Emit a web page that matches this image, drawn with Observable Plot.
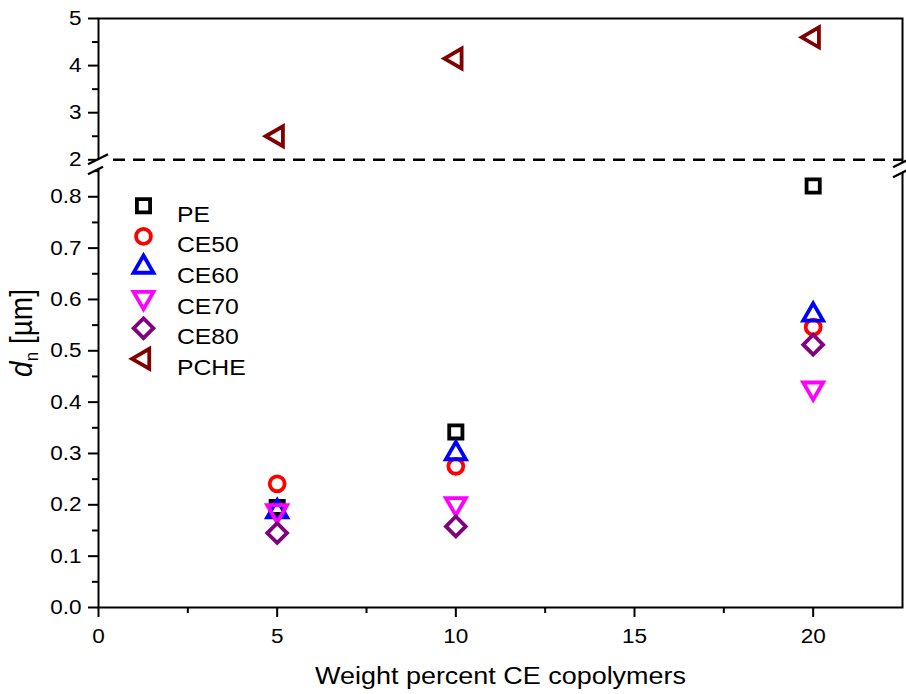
<!DOCTYPE html>
<html><head><meta charset="utf-8">
<script src="https://cdn.jsdelivr.net/npm/d3@7"></script>
<script src="https://cdn.jsdelivr.net/npm/@observablehq/plot@0.6"></script>
<style>
body{margin:0;background:#fff}
#chart{position:relative;width:906px;height:694px}
</style>
</head><body><div id="chart"></div>
<script>
// ---- data ----
const weightPercent = [5, 10, 20];
const peValues   = [0.195, 0.342, 0.821];
const ce50Values = [0.241, 0.275, 0.546];
const ce60Values = [0.187, 0.300, 0.570];
const ce70Values = [0.188, 0.202, 0.427];
const ce80Values = [0.145, 0.158, 0.512];
const pcheValues = [2.50, 4.15, 4.60];

const seriesNames   = ["PE", "CE50", "CE60", "CE70", "CE80", "PCHE"];
const seriesValues  = [peValues, ce50Values, ce60Values, ce70Values, ce80Values, pcheValues];
const seriesColors  = ["#000000", "#ff0000", "#0000ff", "#ff00ff", "#800080", "#800000"];
const seriesSymbols = ["square", "circle", "triangle", "triangle", "diamond2", "triangle"];
const seriesRotate  = [0, 0, 0, 180, 0, -90];
const seriesRadius  = [7.45, 7.45, 7.4, 7.4, 8.9, 7.4];

const xTicks      = [0, 5, 10, 15, 20];
const xMinorTicks = [2.5, 7.5, 12.5, 17.5];
const yTicks      = [0, 0.1, 0.2, 0.3, 0.4, 0.5, 0.6, 0.7, 0.8, 2, 3, 4, 5];
const yMinorTicks = [0.05, 0.15, 0.25, 0.35, 0.45, 0.55, 0.65, 0.75, 0.85, 2.5, 3.5, 4.5];
const xDomain     = [0, 22.5];
const yDomain     = [0, 0.872, 2, 5];   // broken axis: lower part 0–0.872, upper part 2–5
const breakValue  = 2;

const xTitle = "Weight percent CE copolymers";

// ---- layout ----
const W = 906, H = 694;
const mTop = 18, mBottom = 87, mLeft = 98, mRight = 4;
const breakPix = 159.3;
const font = "'Liberation Sans', Arial, sans-serif";
const stretch = 1.1;

const rows = [];
seriesValues.forEach((vals, i) => weightPercent.forEach((x, j) => rows.push({series: i, x, y: vals[j]})));

const marks = [
  Plot.ruleY([breakValue], {stroke: "black", strokeWidth: 2.5, strokeDasharray: "12,8", strokeDashoffset: 5})
];
seriesNames.forEach((name, i) => {
  marks.push(Plot.dot(rows.filter(d => d.series === i), {
    x: "x", y: "y", symbol: seriesSymbols[i], r: seriesRadius[i], rotate: seriesRotate[i],
    stroke: seriesColors[i], strokeWidth: 3.8, fill: "none"
  }));
});
// legend inside plot
seriesNames.forEach((name, i) => {
  const dy = 187.3 + i * 30.6;
  marks.push(Plot.dot([name], {
    frameAnchor: "top-left", dx: 45, dy, symbol: seriesSymbols[i], r: seriesRadius[i],
    rotate: seriesRotate[i], stroke: seriesColors[i], strokeWidth: 3.8, fill: "none"
  }));
  marks.push(Plot.text([name], {
    frameAnchor: "top-left", dx: 78.5, dy, text: d => d, textAnchor: "start",
    fontSize: 22.5, fill: "black"
  }));
});
marks.push(
  Plot.frame({stroke: "black", strokeWidth: 2}),
  Plot.axisX(xTicks, {tickSize: 10, tickPadding: 11, fontSize: 20.5, strokeWidth: 2, label: null}),
  Plot.axisX(xMinorTicks, {tickSize: 6, tickFormat: () => "", strokeWidth: 2, label: null}),
  Plot.axisY(yTicks, {tickSize: 10, tickPadding: 7, fontSize: 20.5, strokeWidth: 2, label: null,
    tickFormat: d => d < 1 ? d.toFixed(1) : String(d)}),
  Plot.axisY(yMinorTicks, {tickSize: 6, tickFormat: () => "", strokeWidth: 2, label: null}),
  Plot.text([xTitle], {frameAnchor: "bottom", dy: 76, lineAnchor: "bottom", text: d => d, fontSize: 24.5, fill: "black"})
);

const chart = Plot.plot({
  width: W, height: H,
  marginTop: mTop, marginBottom: mBottom, marginLeft: mLeft, marginRight: mRight,
  style: {fontFamily: font, fontSize: "20.5px", background: "white", color: "black"},
  x: {domain: xDomain},
  y: {type: "linear", domain: yDomain, range: [H - mBottom, breakPix, breakPix, mTop]},
  marks
});

document.getElementById("chart").appendChild(chart);

const svg = d3.select(chart);

// widen text glyphs slightly (the reference text is horizontally stretched)
svg.selectAll("text").each(function() {
  const t = d3.select(this);
  const tr = t.attr("transform");
  if (tr) t.attr("transform", tr + ` scale(${stretch},1)`);
  else {
    const x = +t.attr("x") || 0, y = +t.attr("y") || 0;
    t.attr("transform", `translate(${x},${y}) scale(${stretch},1) translate(${-x},${-y})`);
  }
});

// ---- axis break marks and y label ----
const sx = chart.scale("x"), sy = chart.scale("y");
function breakMark(cx, cy, lowerEnd) {
  const g = svg.append("g");
  g.append("path")
    .attr("d", `M${cx - 10},${cy + 5}L${cx + 10},${cy - 5}L${cx + 10},${cy + 5}L${cx - 10},${cy + 15}Z`)
    .attr("fill", "white");
  g.append("line").attr("x1", cx - 10).attr("y1", cy + 5).attr("x2", cx + 10).attr("y2", cy - 5)
    .attr("stroke", "black").attr("stroke-width", 2.2);
  g.append("line").attr("x1", cx - 10).attr("y1", cy + 15).attr("x2", cx + lowerEnd).attr("y2", cy + 15 - (10 + lowerEnd) / 2)
    .attr("stroke", "black").attr("stroke-width", 2.2);
}
breakMark(sx.apply(xDomain[0]), sy.apply(breakValue), 5);
breakMark(sx.apply(xDomain[1]) + 1, sy.apply(breakValue) + 3, 5);

const ylab = svg.append("text")
  .attr("transform", `translate(32,333) rotate(-90) scale(1,${stretch})`)
  .attr("text-anchor", "middle")
  .attr("font-family", font)
  .attr("font-size", 28)
  .attr("fill", "black");
ylab.append("tspan").attr("font-style", "italic").text("d");
ylab.append("tspan").attr("font-size", 17).attr("dy", 5).text("n");
ylab.append("tspan").attr("dy", -5).text(" [µm]");
</script>
</body></html>
